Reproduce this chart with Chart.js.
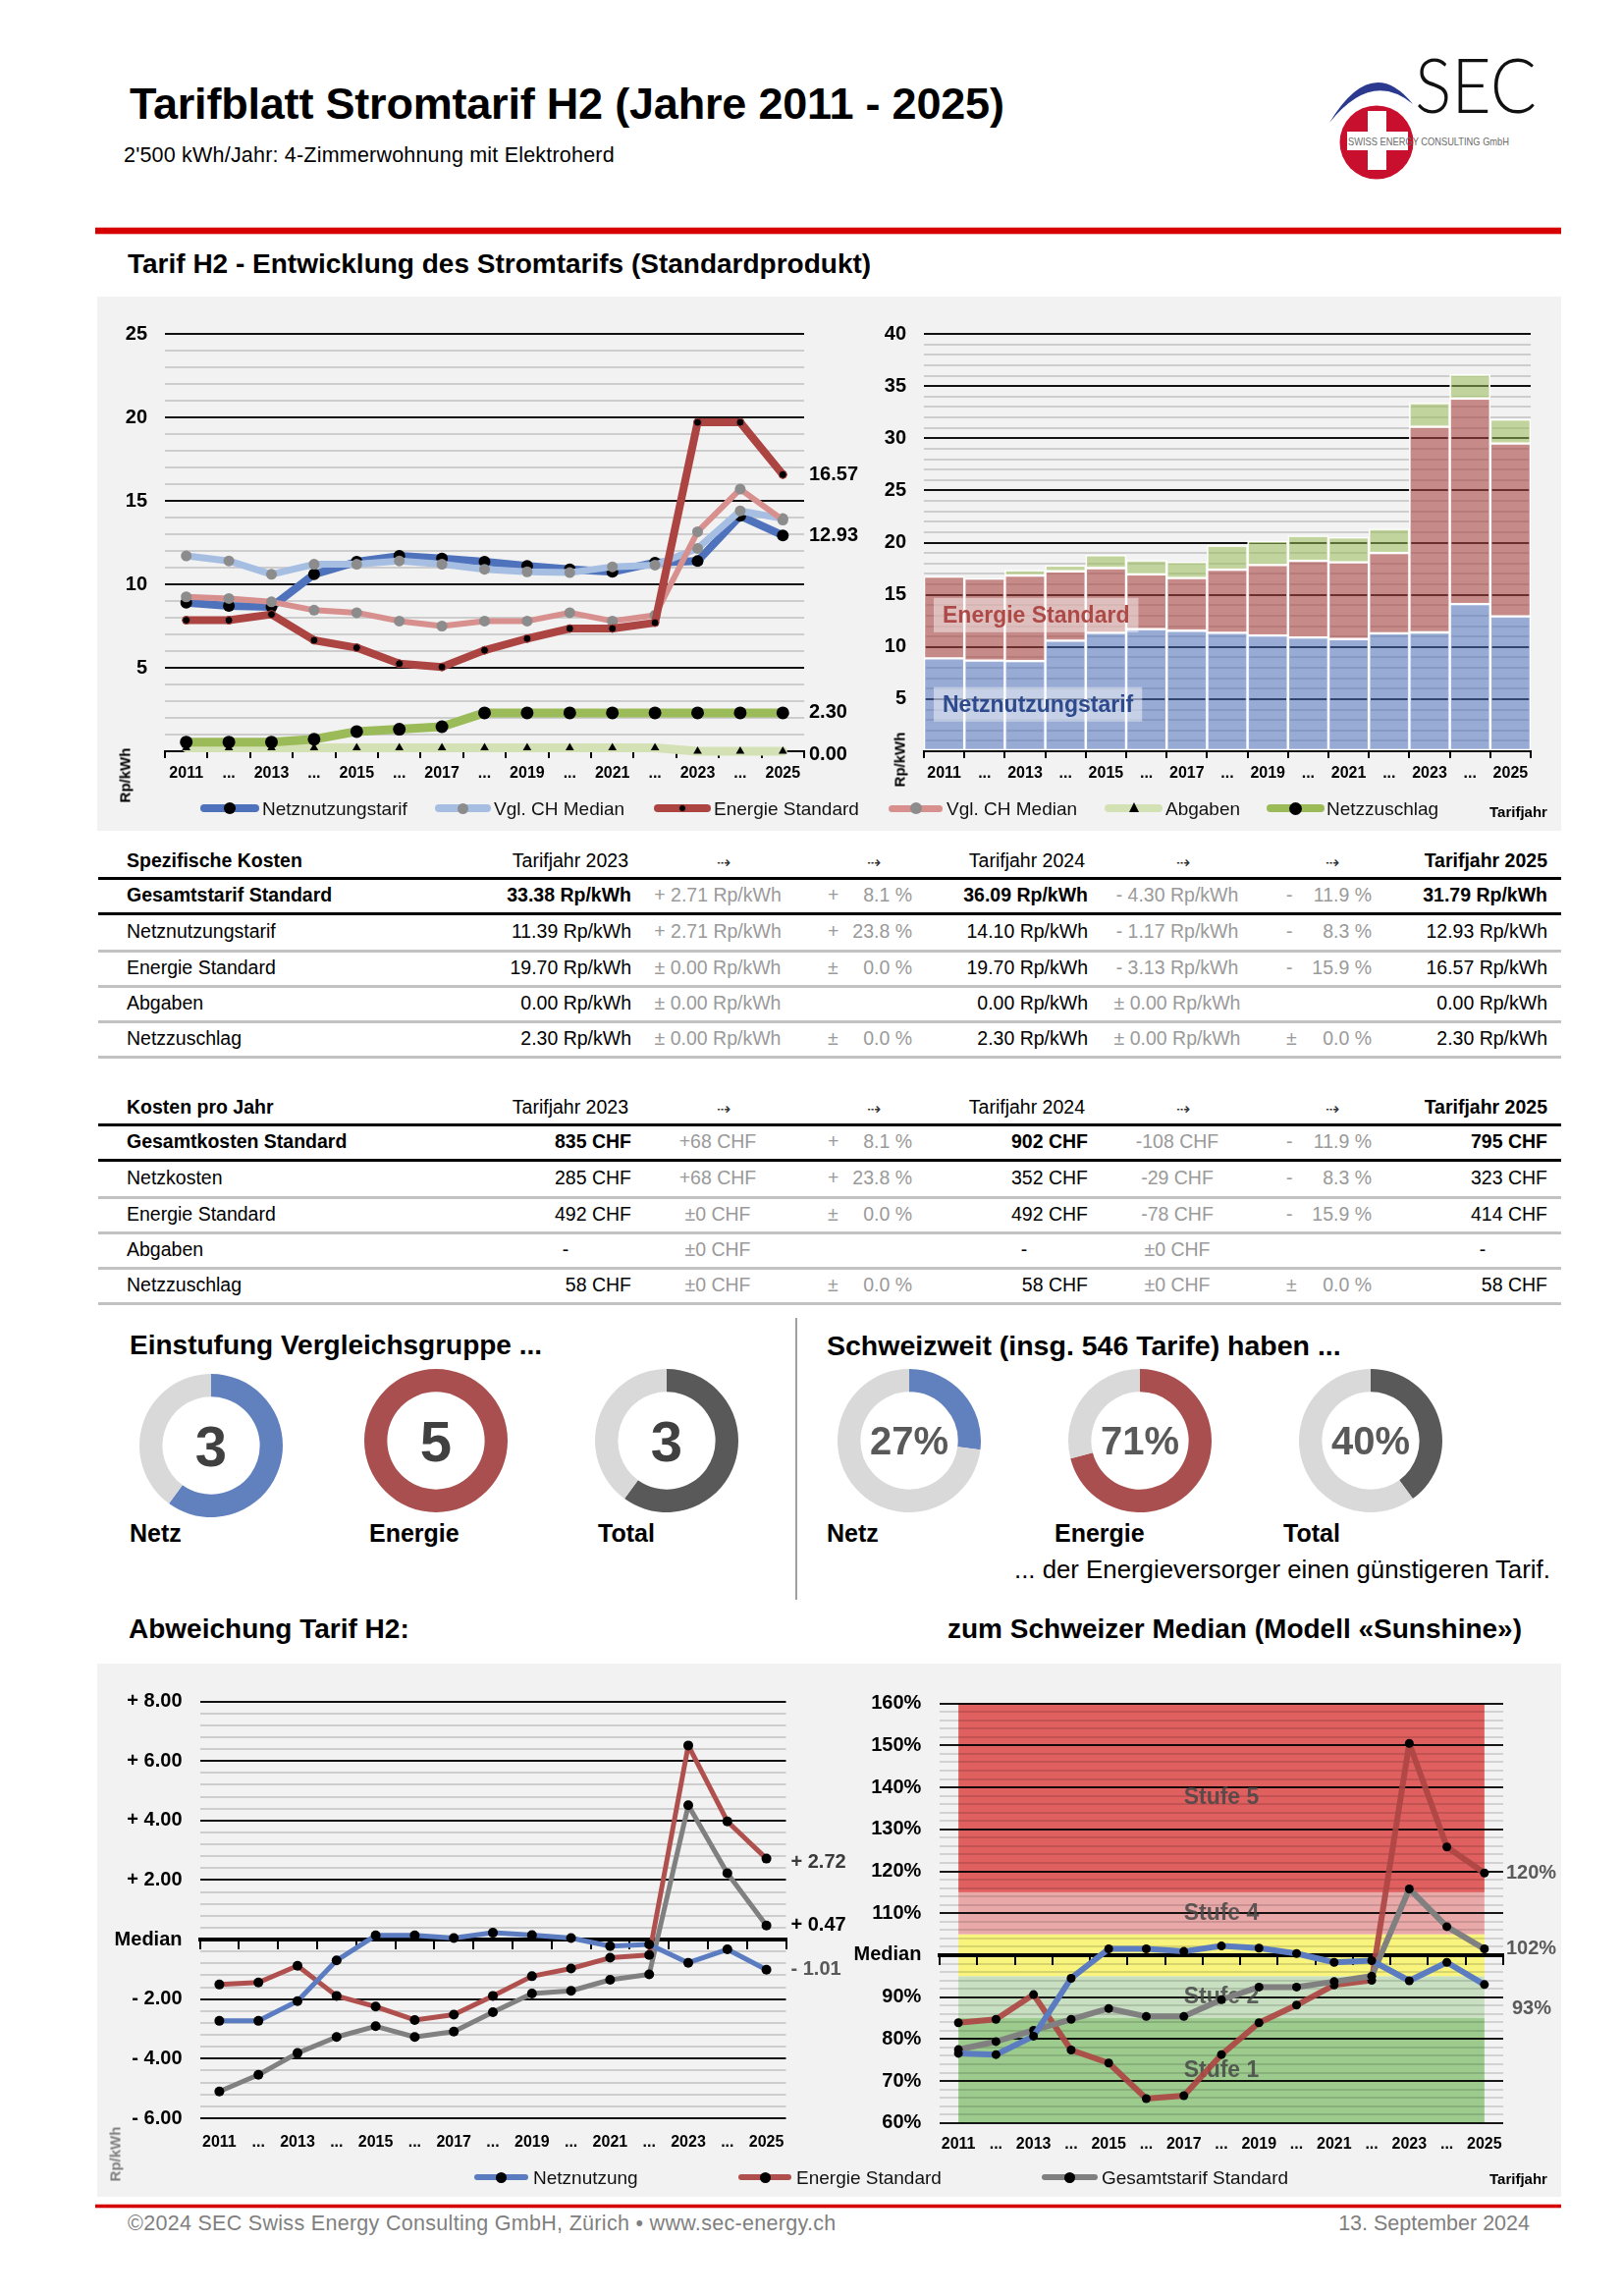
<!DOCTYPE html>
<html><head><meta charset="utf-8">
<script src="https://cdn.jsdelivr.net/npm/chart.js@4/dist/chart.umd.min.js"></script>
<style>
html,body{margin:0;padding:0;background:#fff;}
body{width:1653px;height:2338px;position:relative;overflow:hidden;font-family:"Liberation Sans",Arial,Helvetica,sans-serif;}
.abs{position:absolute;}
.t{position:absolute;white-space:nowrap;line-height:1;}
canvas{position:absolute;}
</style></head><body>
<svg style="position:absolute;left:1340px;top:45px" width="260" height="150" viewBox="1340 45 260 150">
  <path d="M1354,125 Q1397,54 1439,106 Q1397,71 1354,125 Z" fill="#2b3a8f"/>
  <circle cx="1402" cy="145" r="37.5" fill="#c8102e"/>
  <rect x="1393" y="113" width="19" height="60" fill="#fff"/>
  <rect x="1372" y="134" width="62" height="19" fill="#fff"/>
  <text x="1373" y="147.5" font-size="10.5" fill="#6b6b6b" font-family="Liberation Sans Narrow, Liberation Sans, Arial" textLength="164" lengthAdjust="spacingAndGlyphs">SWISS ENERGY CONSULTING GmbH</text>
  <text x="1441" y="115" font-size="77" font-family="Lato, Open Sans, sans-serif" font-weight="300" fill="#111" textLength="124" lengthAdjust="spacingAndGlyphs">SEC</text>
</svg>
<script>
// ---------------- DATA ----------------
const years = [2011,2012,2013,2014,2015,2016,2017,2018,2019,2020,2021,2022,2023,2024,2025];
const tickLabels = ['2011','...','2013','...','2015','...','2017','...','2019','...','2021','...','2023','...','2025'];

// Rp/kWh
const netz          = [8.90, 8.70, 8.65, 10.60, 11.35, 11.70, 11.55, 11.35, 11.10, 10.90, 10.75, 11.30, 11.39, 14.10, 12.93];
const medianNetz    = [11.70, 11.40, 10.60, 11.20, 11.20, 11.40, 11.20, 10.90, 10.75, 10.70, 11.05, 11.15, 12.15, 14.40, 13.94];
const energie       = [7.85, 7.85, 8.20, 6.65, 6.20, 5.25, 5.05, 6.05, 6.75, 7.35, 7.35, 7.70, 19.70, 19.70, 16.57];
const medianEnergie = [9.25, 9.15, 8.95, 8.45, 8.30, 7.80, 7.50, 7.80, 7.80, 8.30, 7.80, 8.15, 13.15, 15.70, 13.85];
const netzzuschlag  = [0.55, 0.55, 0.55, 0.72, 1.18, 1.32, 1.47, 2.30, 2.30, 2.30, 2.30, 2.30, 2.30, 2.30, 2.30];
const abgaben       = [0.20, 0.20, 0.20, 0.20, 0.20, 0.20, 0.20, 0.20, 0.20, 0.20, 0.20, 0.20, 0.00, 0.00, 0.00];
const zuschlagBalken= [0.00, 0.00, 0.50, 0.55, 1.25, 1.35, 1.55, 2.30, 2.30, 2.40, 2.40, 2.30, 2.30, 2.30, 2.30];

// Abweichung zum Median (Rp/kWh)
const devNetz    = [-2.73, -2.73, -2.07, -0.70, 0.14, 0.14, 0.05, 0.23, 0.15, 0.05, -0.22, -0.16, -0.78, -0.33, -1.01];
const devEnergie = [-1.51, -1.44, -0.88, -1.89, -2.25, -2.70, -2.52, -1.89, -1.23, -0.97, -0.61, -0.52, 6.52, 3.97, 2.72];
const devGesamt  = [-5.10, -4.54, -3.81, -3.27, -2.91, -3.27, -3.09, -2.44, -1.81, -1.72, -1.35, -1.17, 4.51, 2.23, 0.47];

// % vom Median
const pctNetz    = [76.6, 76.3, 80.7, 94.5, 101.5, 101.5, 100.9, 102.2, 101.7, 100.4, 98.3, 98.7, 93.9, 98.3, 93.0];
const pctEnergie = [83.9, 84.7, 90.6, 77.4, 74.3, 65.8, 66.5, 76.3, 83.9, 88.1, 92.9, 94.0, 150.5, 125.8, 119.6];
const pctGesamt  = [77.5, 79.4, 82.1, 84.7, 87.3, 85.4, 85.4, 89.4, 92.4, 92.4, 93.7, 95.0, 115.8, 106.8, 101.5];

const bandEdges  = [60, 85, 95, 105, 115, 160];
const bandNames  = ['Stufe 1', 'Stufe 2', '', 'Stufe 4', 'Stufe 5'];

const donutNames = ['Netz', 'Energie', 'Total'];
const stufen     = [3, 5, 3];      // von 5
const guenstiger = [27, 71, 40];   // % der Tarife

const specHead = ['Spezifische Kosten', 'Tarifjahr 2023', 'Tarifjahr 2024', 'Tarifjahr 2025'];
const specRows = [
  ['Gesamtstarif Standard', '33.38 Rp/kWh', '+ 2.71 Rp/kWh', '+', '8.1 %', '36.09 Rp/kWh', '- 4.30 Rp/kWh', '-', '11.9 %', '31.79 Rp/kWh'],
  ['Netznutzungstarif', '11.39 Rp/kWh', '+ 2.71 Rp/kWh', '+', '23.8 %', '14.10 Rp/kWh', '- 1.17 Rp/kWh', '-', '8.3 %', '12.93 Rp/kWh'],
  ['Energie Standard', '19.70 Rp/kWh', '\u00b1 0.00 Rp/kWh', '\u00b1', '0.0 %', '19.70 Rp/kWh', '- 3.13 Rp/kWh', '-', '15.9 %', '16.57 Rp/kWh'],
  ['Abgaben', '0.00 Rp/kWh', '\u00b1 0.00 Rp/kWh', '', '', '0.00 Rp/kWh', '\u00b1 0.00 Rp/kWh', '', '', '0.00 Rp/kWh'],
  ['Netzzuschlag', '2.30 Rp/kWh', '\u00b1 0.00 Rp/kWh', '\u00b1', '0.0 %', '2.30 Rp/kWh', '\u00b1 0.00 Rp/kWh', '\u00b1', '0.0 %', '2.30 Rp/kWh']
];
const costHead = ['Kosten pro Jahr', 'Tarifjahr 2023', 'Tarifjahr 2024', 'Tarifjahr 2025'];
const costRows = [
  ['Gesamtkosten Standard', '835 CHF', '+68 CHF', '+', '8.1 %', '902 CHF', '-108 CHF', '-', '11.9 %', '795 CHF'],
  ['Netzkosten', '285 CHF', '+68 CHF', '+', '23.8 %', '352 CHF', '-29 CHF', '-', '8.3 %', '323 CHF'],
  ['Energie Standard', '492 CHF', '\u00b10 CHF', '\u00b1', '0.0 %', '492 CHF', '-78 CHF', '-', '15.9 %', '414 CHF'],
  ['Abgaben', '-', '\u00b10 CHF', '', '', '-', '\u00b10 CHF', '', '', '-'],
  ['Netzzuschlag', '58 CHF', '\u00b10 CHF', '\u00b1', '0.0 %', '58 CHF', '\u00b10 CHF', '\u00b1', '0.0 %', '58 CHF']
];

// ---------------- STYLE ----------------
const FONT = '"Liberation Sans", Arial, Helvetica, sans-serif';
const C = {
  netz: '#4f72bd', netzMed: '#a7bee3', en: '#ac4442', enMed: '#d7908e',
  zus: '#9bbb59', abg: '#d3e1b4',
  netz2: '#5b7cc0', en2: '#b0504e', ges2: '#808080',
  grayPanel: '#f2f2f2'
};

// ---------------- HELPERS ----------------
function txt(s, x, base, fs, o = {}) {
  const d = document.createElement('div');
  d.className = 't';
  d.textContent = s;
  d.style.fontSize = fs + 'px';
  d.style.fontWeight = o.bold ? '700' : '400';
  d.style.color = o.color || '#000';
  if (o.ls) d.style.letterSpacing = o.ls + 'px';
  d.style.top = (base - 0.8465 * fs) + 'px';
  const a = o.align || 'left';
  if (a === 'left') d.style.left = x + 'px';
  else if (a === 'right') { d.style.left = (x - 1200) + 'px'; d.style.width = '1200px'; d.style.textAlign = 'right'; }
  else { d.style.left = (x - 600) + 'px'; d.style.width = '1200px'; d.style.textAlign = 'center'; }
  document.body.appendChild(d);
  return d;
}
function rect(x, y, w, h, color) {
  const d = document.createElement('div');
  d.className = 'abs';
  Object.assign(d.style, { left: x + 'px', top: y + 'px', width: w + 'px', height: h + 'px', background: color });
  document.body.appendChild(d);
  return d;
}
function vtxt(s, cx, cy, fs, color) {
  const d = document.createElement('div');
  d.className = 't';
  d.textContent = s;
  Object.assign(d.style, { left: (cx - 60) + 'px', top: (cy - fs / 2) + 'px', width: '120px', height: fs + 'px', textAlign: 'center',
    fontSize: fs + 'px', fontWeight: '700', color: color, transform: 'rotate(-90deg)', lineHeight: fs + 'px' });
  document.body.appendChild(d);
}
function legendItem(x1, x2, yc, color, lw, marker, label, tx) {
  const d = document.createElement('div'); d.className = 'abs';
  Object.assign(d.style, { left: x1 + 'px', top: (yc - lw / 2) + 'px', width: (x2 - x1) + 'px', height: lw + 'px', background: color, borderRadius: (lw / 2) + 'px' });
  document.body.appendChild(d);
  const cx = (x1 + x2) / 2;
  const m = document.createElement('div'); m.className = 'abs';
  if (marker.type === 'tri') {
    Object.assign(m.style, { left: (cx - 5) + 'px', top: (yc - 6) + 'px', width: '0', height: '0', borderLeft: '5px solid transparent', borderRight: '5px solid transparent', borderBottom: '10px solid ' + marker.color });
  } else {
    const r = marker.r;
    Object.assign(m.style, { left: (cx - r) + 'px', top: (yc - r) + 'px', width: 2 * r + 'px', height: 2 * r + 'px', borderRadius: '50%', background: marker.color, boxSizing: 'border-box', border: marker.border ? ('1.5px solid ' + marker.border) : 'none' });
  }
  document.body.appendChild(m);
  txt(label, tx, yc + 7, 19, { color: '#111' });
}
function mkCanvas(x, y, w, h) {
  const c = document.createElement('canvas');
  c.width = w; c.height = h;
  Object.assign(c.style, { left: x + 'px', top: y + 'px', width: w + 'px', height: h + 'px' });
  document.body.appendChild(c);
  return c;
}

Chart.defaults.font.family = FONT;
Chart.defaults.color = '#000';
Chart.defaults.animation = false;
Chart.defaults.plugins.legend.display = false;
Chart.defaults.plugins.tooltip.enabled = false;

function endLabels(items) {
  return { id: 'endLabels', afterDatasetsDraw(chart) {
    const ctx = chart.ctx, ys = chart.scales.y, ca = chart.chartArea;
    items.forEach(it => {
      ctx.save();
      ctx.font = (it.bold === false ? '' : 'bold ') + (it.size || 20) + 'px ' + FONT;
      ctx.fillStyle = it.color || '#000';
      ctx.textBaseline = 'middle'; ctx.textAlign = 'left';
      ctx.fillText(it.text, ca.right + (it.dx ?? 5), ys.getPixelForValue(it.value) + (it.dy || 0));
      ctx.restore();
    });
  } };
}
const fmt2 = v => v.toFixed(2);
const fmtDev = v => (v >= 0 ? '+ ' : '- ') + Math.abs(v).toFixed(2);
const fmtPct = v => Math.round(v) + '%';

function xBottomTicks(h, pad) {
  return {
    type: 'category', offset: true,
    grid: { display: true, drawOnChartArea: false, drawTicks: true, tickLength: 7, color: '#000', lineWidth: 2, offset: true },
    border: { display: true, color: '#000', width: 2 },
    ticks: { autoSkip: false, maxRotation: 0, minRotation: 0, padding: pad, font: { size: 16, weight: 'bold' }, color: '#000', callback: (v, i) => tickLabels[i] },
    afterFit(s) { s.height = h; }
  };
}
function xPlain(h, pad) {
  return {
    type: 'category', offset: true,
    grid: { display: false, drawTicks: false }, border: { display: false },
    ticks: { autoSkip: false, maxRotation: 0, minRotation: 0, padding: pad, font: { size: 16, weight: 'bold' }, color: '#000', callback: (v, i) => tickLabels[i] },
    afterFit(s) { s.height = h; }
  };
}
function xMedian(val) {
  return {
    type: 'category', axis: 'x', position: { y: val }, offset: true,
    grid: { display: true, drawOnChartArea: false, drawTicks: true, tickLength: 8, color: '#000', lineWidth: 2, offset: true },
    border: { display: true, color: '#000', width: 4 },
    ticks: { display: false },
    afterFit(s) { s.height = 0; }
  };
}
function lineDs(label, data, color, bw, pr, pc, extra = {}) {
  return Object.assign({ type: 'line', label, data, borderColor: color, backgroundColor: color, borderWidth: bw,
    pointRadius: pr, pointBackgroundColor: pc, pointBorderWidth: 0, borderJoinStyle: 'round', borderCapStyle: 'round',
    tension: 0, fill: false, clip: false }, extra);
}

// ---------------- STATIC LAYOUT ----------------
txt('Tarifblatt Stromtarif H2 (Jahre 2011 - 2025)', 132, 121, 45, { bold: true, ls: -0.2 });
txt("2'500 kWh/Jahr: 4-Zimmerwohnung mit Elektroherd", 126, 166, 21.5, { ls: 0.2 });
rect(97, 231, 1493, 8, '#f2b3b3');
rect(97, 232, 1493, 6, '#d70000');
txt('Tarif H2 - Entwicklung des Stromtarifs (Standardprodukt)', 130, 279, 28, { bold: true });

rect(99, 302, 1491, 544, C.grayPanel);
rect(99, 1694, 1491, 543, C.grayPanel);
rect(97, 2244, 1493, 5, '#f2b3b3');
rect(97, 2245, 1493, 3, '#d70000');

// ---------------- TOP LEFT: line chart ----------------
new Chart(mkCanvas(100, 310, 780, 500), {
  data: {
    labels: years.map(String),
    datasets: [
      lineDs('Netzzuschlag', netzzuschlag, C.zus, 9, 6.5, '#000', { order: 1 }),
      lineDs('Abgaben', abgaben, C.abg, 9, 5, '#000', { order: 2, pointStyle: 'triangle' }),
      lineDs('Energie Standard', energie, C.en, 8, 4, '#000', { order: 3, pointBorderColor: C.en, pointBorderWidth: 1 }),
      lineDs('Vgl. CH Median', medianEnergie, C.enMed, 6, 5.5, '#8c8c8c', { order: 4 }),
      lineDs('Vgl. CH Median', medianNetz, C.netzMed, 7, 5.5, '#8c8c8c', { order: 5 }),
      lineDs('Netznutzungstarif', netz, C.netz, 8, 6, '#000', { order: 6 })
    ]
  },
  options: {
    responsive: false, events: [],
    layout: { padding: { left: 0, right: 61, top: 30, bottom: 0 } },
    scales: {
      x: xBottomTicks(45, 6),
      y: { min: 0, max: 25, border: { display: false },
        ticks: { stepSize: 1, autoSkip: false, padding: 18, font: { size: 20, weight: 'bold' }, color: '#000', callback: v => (v % 5 === 0 && v !== 0 ? String(v) : '') },
        grid: { drawTicks: false, lineWidth: 2, color: c => (c.tick && c.tick.value % 5 === 0 ? '#111' : '#cdcdcd') },
        afterFit(s) { s.width = 68; } }
    }
  },
  plugins: [endLabels([
    { text: fmt2(energie[14]), value: energie[14] },
    { text: fmt2(netz[14]), value: netz[14] },
    { text: fmt2(netzzuschlag[14]), value: netzzuschlag[14] },
    { text: fmt2(abgaben[14]), value: abgaben[14], dy: 3 }
  ])]
});

// ---------------- TOP RIGHT: stacked bars ----------------
const barLabels = { id: 'barLabels', afterDatasetsDraw(chart) {
  const ctx = chart.ctx, y = chart.scales.y;
  const left = chart.chartArea.left + 10;
  [['Energie Standard', 13.05, '#ad4a48'], ['Netznutzungstarif', 4.5, '#2e4a8c']].forEach(([t, v, col]) => {
    ctx.save();
    ctx.font = 'bold 23px ' + FONT;
    const w = ctx.measureText(t).width;
    const cy = y.getPixelForValue(v);
    ctx.fillStyle = 'rgba(255,255,255,0.45)';
    ctx.fillRect(left, cy - 17.5, w + 18, 35);
    ctx.fillStyle = col; ctx.textBaseline = 'middle'; ctx.textAlign = 'left';
    ctx.fillText(t, left + 9, cy + 1);
    ctx.restore();
  });
} };
new Chart(mkCanvas(870, 310, 730, 500), {
  type: 'bar',
  data: {
    labels: years.map(String),
    datasets: [
      { label: 'Netznutzungstarif', data: netz, backgroundColor: 'rgba(79,113,190,0.55)' },
      { label: 'Energie Standard', data: energie, backgroundColor: 'rgba(169,68,66,0.6)' },
      { label: 'Abgaben + Netzzuschlag', data: zuschlagBalken, backgroundColor: 'rgba(155,187,89,0.55)' }
    ].map(d => Object.assign(d, { borderColor: '#ffffff', borderWidth: 1.5, borderSkipped: false, barPercentage: 1, categoryPercentage: 1 }))
  },
  options: {
    responsive: false, events: [],
    layout: { padding: { left: 0, right: 41, top: 30, bottom: 0 } },
    scales: {
      x: Object.assign(xBottomTicks(45, 6), { stacked: true }),
      y: { stacked: true, min: 0, max: 40, border: { display: false },
        ticks: { stepSize: 1, autoSkip: false, padding: 18, font: { size: 20, weight: 'bold' }, color: '#000', callback: v => (v % 5 === 0 && v !== 0 ? String(v) : '') },
        grid: { drawTicks: false, lineWidth: 2, color: c => (c.tick && c.tick.value % 5 === 0 ? '#111' : '#cdcdcd') },
        afterFit(s) { s.width = 71; } }
    }
  },
  plugins: [barLabels]
});

vtxt('Rp/kWh', 127, 789, 15, '#000');
vtxt('Rp/kWh', 916, 773, 15, '#000');
legendItem(204, 264, 823, C.netz, 8, { r: 6, color: '#000' }, 'Netznutzungstarif', 267);
legendItem(443, 500, 823, C.netzMed, 8, { r: 5.5, color: '#8c8c8c' }, 'Vgl. CH Median', 503);
legendItem(666, 724, 823, C.en, 8, { r: 4, color: '#000', border: C.en }, 'Energie Standard', 727);
legendItem(905, 960, 823, C.enMed, 7, { r: 6, color: '#8c8c8c' }, 'Vgl. CH Median', 964);
legendItem(1125, 1184, 823, C.abg, 8, { type: 'tri', color: '#000' }, 'Abgaben', 1187);
legendItem(1290, 1349, 823, C.zus, 8, { r: 6.5, color: '#000' }, 'Netzzuschlag', 1351);
txt('Tarifjahr', 1517, 832, 15, { bold: true });

// ---------------- TABLES ----------------
function drawTable(top, head, rows) {
  const gray = '#9a9a9a', fs = 19.5;
  txt(head[0], 129, top + 7, fs, { bold: true });
  txt(head[1], 640, top + 7, fs, { align: 'right' });
  txt(head[2], 1105, top + 7, fs, { align: 'right' });
  txt(head[3], 1576, top + 7, fs, { bold: true, align: 'right' });
  [737, 890, 1205, 1357].forEach(x => txt('\u21e2', x, top + 7, 17, { align: 'center', color: '#333' }));
  rect(100, top + 16, 1490, 3, '#000');
  rect(100, top + 52, 1490, 3, '#000');
  [90, 126, 162, 198].forEach(dy => rect(100, top + dy, 1490, 3, '#c2c2c2'));
  const centers = [35, 72, 109, 145, 181];
  rows.forEach((r, i) => {
    const b = top + centers[i] + 7;
    const bold = i === 0;
    txt(r[0], 129, b, fs, { bold });
    const dashX = [576, 1043, 1510];
    [[r[1], 643, 0], [r[5], 1108, 1], [r[9], 1576, 2]].forEach(([v, x, k]) => {
      if (v === '-') txt('-', dashX[k], b, fs, { align: 'center' });
      else txt(v, x, b, fs, { bold, align: 'right' });
    });
    txt(r[2], 731, b, fs, { align: 'center', color: gray });
    txt(r[6], 1199, b, fs, { align: 'center', color: gray });
    if (r[3]) { txt(r[3], 843, b, fs, { color: gray }); txt(r[4], 929, b, fs, { align: 'right', color: gray }); }
    if (r[7]) { txt(r[7], 1310, b, fs, { color: gray }); txt(r[8], 1397, b, fs, { align: 'right', color: gray }); }
  });
}
drawTable(877, specHead, specRows);
drawTable(1128, costHead, costRows);

// ---------------- DONUTS ----------------
txt('Einstufung Vergleichsgruppe ...', 132, 1380, 28, { bold: true });
txt('Schweizweit (insg. 546 Tarife) haben ...', 842, 1380, 28.5, { bold: true });
rect(810, 1342, 2, 287, '#a0a0a0');
const donutColors = ['#6180be', '#a94f4f', '#595959'];
function donut(cx, cy, val, total, color, label, fs, tcolor, stroke) {
  const center = { id: 'center', afterDraw(chart) {
    const ctx = chart.ctx;
    ctx.save();
    ctx.font = 'bold ' + fs + 'px ' + FONT;
    ctx.textAlign = 'center'; ctx.textBaseline = 'alphabetic';
    const m = chart.getDatasetMeta(0).data[0];
    const by = m.y + fs * 0.358;
    if (stroke) { ctx.lineWidth = 5; ctx.strokeStyle = '#fff'; ctx.lineJoin = 'round'; ctx.strokeText(label, m.x, by); }
    ctx.fillStyle = tcolor; ctx.fillText(label, m.x, by);
    ctx.restore();
  } };
  new Chart(mkCanvas(cx - 75, cy - 75, 150, 150), {
    type: 'doughnut',
    data: { labels: ['a', 'b'], datasets: [{ data: [val, total - val], backgroundColor: [color, '#d9d9d9'], borderWidth: 0 }] },
    options: { responsive: false, events: [], cutout: '68%', layout: { padding: 2 } },
    plugins: [center]
  });
}
const leftX = [215, 444, 679], rightX = [926, 1161, 1396];
const leftY = [1472, 1467, 1467];
donutNames.forEach((n, i) => {
  donut(leftX[i], leftY[i], stufen[i], 5, donutColors[i], String(stufen[i]), 58, '#404040', false);
  donut(rightX[i], 1467, guenstiger[i], 100, donutColors[i], guenstiger[i] + '%', 40, '#595959', true);
});
[132, 376, 609].forEach((x, i) => txt(donutNames[i], x, 1570, 25, { bold: true }));
[842, 1074, 1307].forEach((x, i) => txt(donutNames[i], x, 1570, 25, { bold: true }));
txt('... der Energieversorger einen g\u00fcnstigeren Tarif.', 1033, 1608, 25.8);

// ---------------- BOTTOM ----------------
txt('Abweichung Tarif H2:', 131, 1669, 28, { bold: true });
txt('zum Schweizer Median (Modell \u00abSunshine\u00bb)', 965, 1669, 28, { bold: true });

new Chart(mkCanvas(100, 1700, 780, 520), {
  data: {
    labels: years.map(String),
    datasets: [
      lineDs('Netznutzung', devNetz, C.netz2, 5, 5, '#000', { order: 1 }),
      lineDs('Energie Standard', devEnergie, C.en2, 5, 5, '#000', { order: 2 }),
      lineDs('Gesamtstarif Standard', devGesamt, C.ges2, 5, 5, '#000', { order: 3 })
    ]
  },
  options: {
    responsive: false, events: [],
    layout: { padding: { left: 0, right: 79.5, top: 32.5, bottom: 0 } },
    scales: {
      x: xPlain(63, 15),
      xm: xMedian(0),
      y: { min: -6, max: 8, border: { display: false },
        ticks: { stepSize: 0.4, autoSkip: false, padding: 18, font: { size: 20, weight: 'bold' }, color: '#000',
          callback: v => { if (Math.abs(v) < 1e-9) return 'Median'; const e = Math.abs(v / 2 - Math.round(v / 2)) < 1e-6; return e ? fmtDev(v) : ''; } },
        grid: { drawTicks: false, lineWidth: c => (c.tick && Math.abs(c.tick.value) < 1e-9 ? 3 : 2),
          color: c => { if (!c.tick) return '#ccc'; const v = c.tick.value; return Math.abs(v / 2 - Math.round(v / 2)) < 1e-6 ? '#111' : '#cdcdcd'; } },
        afterFit(s) { s.width = 103.5; } }
    }
  },
  plugins: [endLabels([
    { text: fmtDev(devEnergie[14]), value: devEnergie[14], color: '#3a3a3a', dy: 4 },
    { text: fmtDev(devGesamt[14]), value: devGesamt[14], color: '#000' },
    { text: fmtDev(devNetz[14]), value: devNetz[14], color: '#595959' }
  ])]
});

const bandColors = ['#9ccb8d', '#c8dfc1', '#f9f47d', '#eaa9a9', '#e06060'];
const bands = {
  id: 'bands',
  beforeDraw(chart) {
    const ctx = chart.ctx, x = chart.scales.x, y = chart.scales.y;
    const x0 = x.getPixelForValue(0), x1 = x.getPixelForValue(years.length - 1);
    ctx.save();
    for (let i = 0; i < bandColors.length; i++) {
      const yt = y.getPixelForValue(bandEdges[i + 1]), yb = y.getPixelForValue(bandEdges[i]);
      ctx.fillStyle = bandColors[i];
      ctx.fillRect(x0, yt, x1 - x0, yb - yt);
    }
    ctx.restore();
  },
  beforeDatasetsDraw(chart) {
    const ctx = chart.ctx, x = chart.scales.x, y = chart.scales.y;
    const cx = (x.getPixelForValue(0) + x.getPixelForValue(years.length - 1)) / 2;
    ctx.save();
    ctx.font = 'bold 23px ' + FONT; ctx.textAlign = 'center'; ctx.textBaseline = 'middle';
    ctx.fillStyle = 'rgba(70,70,70,0.85)';
    bandNames.forEach((n, i) => { if (n) ctx.fillText(n, cx, y.getPixelForValue((bandEdges[i] + bandEdges[i + 1]) / 2)); });
    ctx.restore();
  }
};
new Chart(mkCanvas(870, 1700, 740, 520), {
  data: {
    labels: years.map(String),
    datasets: [
      lineDs('Netznutzung', pctNetz, C.netz2, 6, 4.5, '#000', { order: 1 }),
      lineDs('Gesamtstarif Standard', pctGesamt, C.ges2, 6, 4.5, '#000', { order: 2 }),
      lineDs('Energie Standard', pctEnergie, 'rgba(172,70,68,0.92)', 6, 4.5, '#000', { order: 3 })
    ]
  },
  options: {
    responsive: false, events: [],
    layout: { padding: { left: 0, right: 79, top: 34.7, bottom: 0 } },
    scales: {
      x: xPlain(58.2, 12),
      xm: xMedian(100),
      y: { min: 60, max: 160, border: { display: false },
        ticks: { stepSize: 2, autoSkip: false, padding: 18.6, font: { size: 20, weight: 'bold' }, color: '#000',
          callback: v => (v === 100 ? 'Median' : (v % 10 === 0 ? v + '%' : '')) },
        grid: { drawTicks: false, lineWidth: 2, color: c => (c.tick && c.tick.value % 10 === 0 ? 'rgba(0,0,0,0.9)' : 'rgba(0,0,0,0.13)') },
        afterFit(s) { s.width = 87; } }
    }
  },
  plugins: [bands, endLabels([
    { text: fmtPct(pctEnergie[14]), value: pctEnergie[14], color: '#5a5a5a', dx: 3 },
    { text: fmtPct(pctGesamt[14]), value: pctGesamt[14], color: '#5a5a5a', dx: 3 },
    { text: fmtPct(pctNetz[14]), value: pctNetz[14], color: '#5a5a5a', dx: 9, dy: 25 }
  ])]
});

vtxt('Rp/kWh', 117, 2193, 15, '#7f7f7f');
legendItem(483, 538, 2217, C.netz2, 6, { r: 5.5, color: '#000' }, 'Netznutzung', 543);
legendItem(752, 806, 2217, C.en2, 6, { r: 5.5, color: '#000' }, 'Energie Standard', 811);
legendItem(1061, 1118, 2217, C.ges2, 6, { r: 5.5, color: '#000' }, 'Gesamtstarif Standard', 1122);
txt('Tarifjahr', 1517, 2224, 15, { bold: true });

// ---------------- FOOTER ----------------
txt('\u00a92024 SEC Swiss Energy Consulting GmbH, Z\u00fcrich \u2022 www.sec-energy.ch', 130, 2272, 21.5, { color: '#7f7f7f', ls: 0.3 });
txt('13. September 2024', 1558, 2272, 21.5, { color: '#7f7f7f', align: 'right' });
</script>
</body></html>
